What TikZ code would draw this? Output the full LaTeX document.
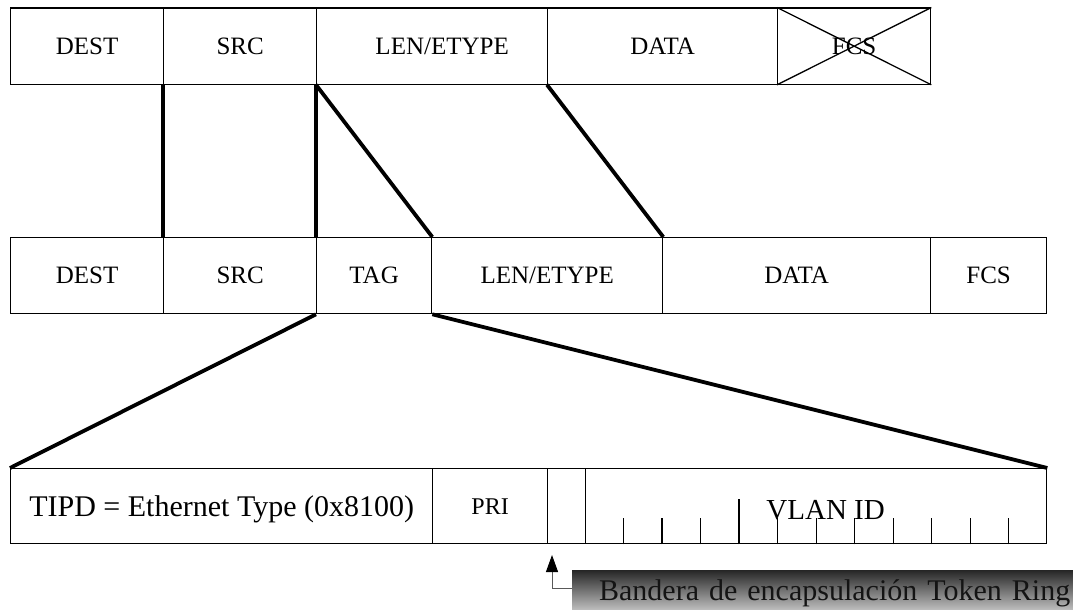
\documentclass[tikz,border=0pt]{standalone}
\usepackage{fontspec}
\setmainfont{Liberation Serif}
\usetikzlibrary{arrows.meta,calc}
\begin{document}
\begin{tikzpicture}[x=1pt,y=-1pt,
  field/.style={draw, line width=1.3pt, inner sep=0pt, anchor=north west, text depth=0pt},
  rowA/.style={field, minimum height=76pt, font=\fontsize{25}{30}\selectfont, text height=16.5pt},
  rowB/.style={field, minimum height=75pt, font=\fontsize{30}{36}\selectfont, text height=20pt},
  link/.style={line width=3.8pt},
  tick/.style={line width=1.3pt},
  flagbox/.style={anchor=north west, minimum width=501pt, minimum height=40pt,
    inner xsep=3pt, inner ysep=0pt, text width=495pt, align=right,
    top color=black!85, bottom color=black!25, text=black!92,
    font=\fontsize{30}{36}\selectfont, text height=26pt, text depth=6pt}
]
\useasboundingbox (0,0) rectangle (1073,610);

% original Ethernet frame
\node[rowA, minimum width=153pt] (t-dest) at (10,7.5) {DEST};
\node[rowA, minimum width=153pt] (t-src)  at (163,7.5) {SRC};
\node[rowA, minimum width=231pt] (t-len)  at (316,7.5) {\hspace*{20pt}LEN/ETYPE};
\node[rowA, minimum width=230pt] (t-data) at (547,7.5) {DATA};
\node[rowA, minimum width=153pt] (t-fcs)  at (777,7.5) {FCS};
\draw[line width=1.3pt] (t-fcs.north west) -- (t-fcs.south east)
                        (t-fcs.south west) -- (t-fcs.north east);

% tagged frame
\node[rowA, minimum width=153pt] (m-dest) at (10,237) {DEST};
\node[rowA, minimum width=153pt] (m-src)  at (163,237) {SRC};
\node[rowA, minimum width=115pt] (m-tag)  at (316,237) {TAG};
\node[rowA, minimum width=231pt] (m-len)  at (431,237) {LEN/ETYPE};
\node[rowA, minimum width=268pt] (m-data) at (662,237) {DATA};
\node[rowA, minimum width=116pt] (m-fcs)  at (930,237) {FCS};

% tag contents
\node[rowB, minimum width=422pt] (b-tpid) at (10,468) {TIPD = Ethernet Type (0x8100)};
\node[field, minimum width=115pt, minimum height=75pt, font=\fontsize{24}{28}\selectfont,
      text height=16pt] (b-pri) at (432,468) {PRI};
\node[field, minimum width=38pt, minimum height=75pt] (b-tr) at (547,468) {};
\node[field, minimum width=461pt, minimum height=75pt, font=\fontsize{29}{34}\selectfont,
      text height=27pt] (b-vlan) at (585,468) {\hspace*{19pt}VLAN ID};

% bit ticks of the VLAN ID
\foreach \k in {1,...,11} {
  \pgfmathsetmacro\h{\k==4 ? 45 : 26}
  \draw[tick] ($(b-vlan.south west)!\k/12!(b-vlan.south east)$) -- ++(0,-\h);
}

% field correspondences
\draw[link] (t-src.south west) -- (m-src.north west);
\draw[link] (t-len.south west) -- (m-tag.north west);
\draw[link] (t-len.south west) -- (m-tag.north east);
\draw[link] (t-data.south west) -- (m-len.north east);
\draw[link] (m-tag.south west) -- (b-tpid.north west);
\draw[link] (m-tag.south east) -- (b-vlan.north east);

% Token Ring encapsulation flag callout
\node[flagbox] (flag) at (572,570) {Bandera de encapsulación Token Ring};
\coordinate (flag-tip) at (552,555);
\draw[gray!70!black, line width=1pt, -{Triangle[length=17pt,width=12pt,color=black]}]
  ([yshift=2pt]flag.west) -| (flag-tip);
\end{tikzpicture}
\end{document}
